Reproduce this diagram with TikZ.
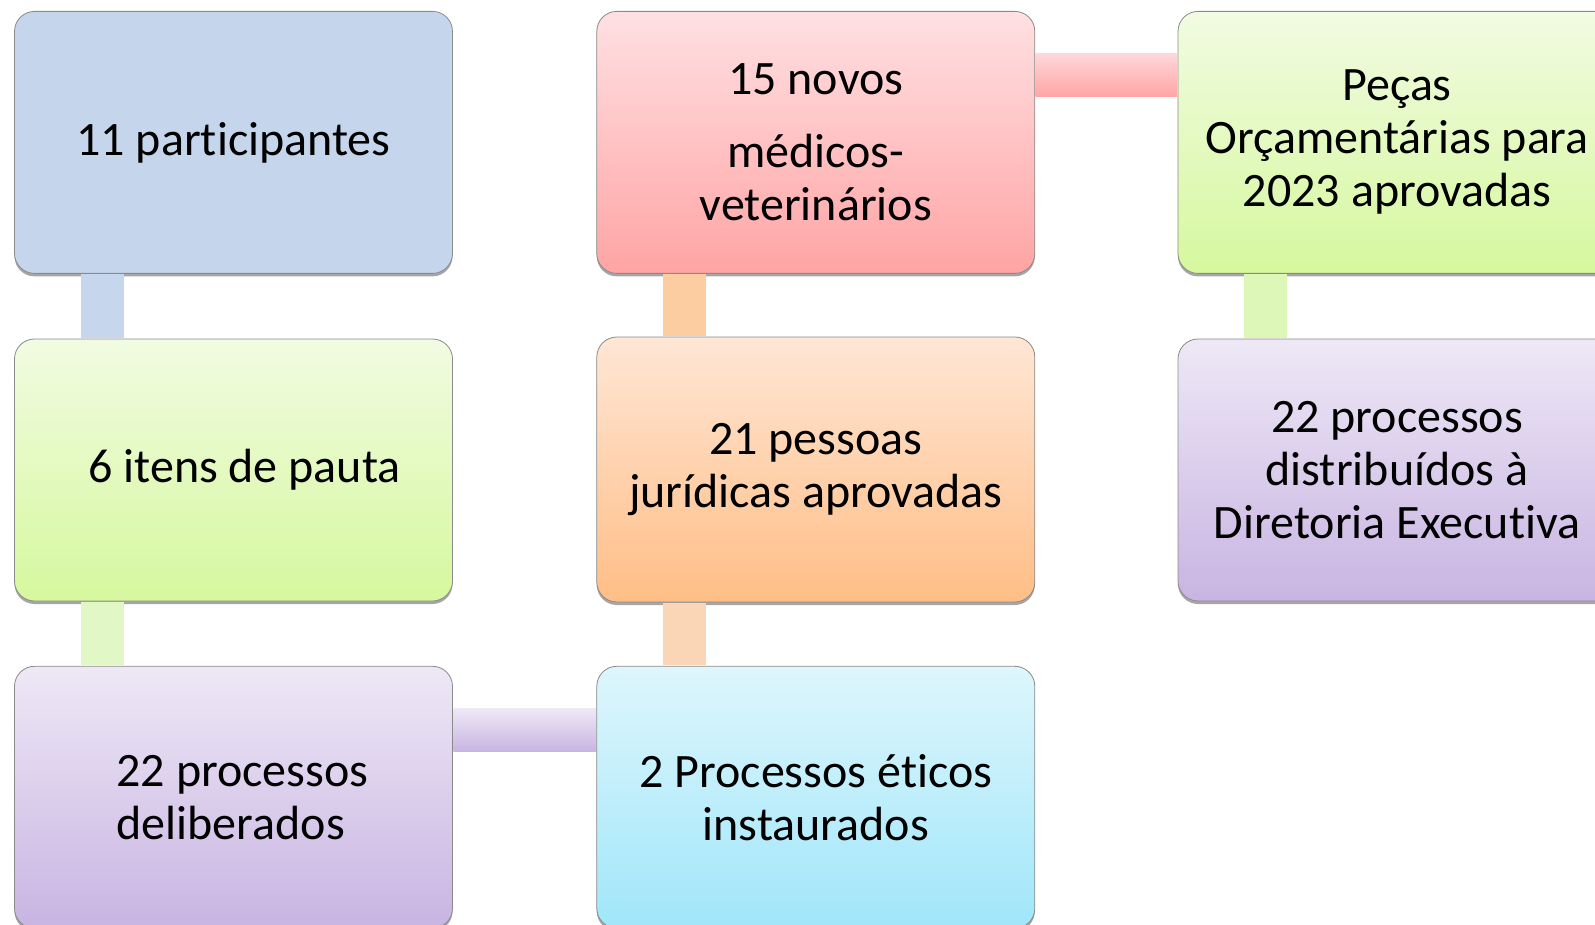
\documentclass[tikz,border=0pt]{standalone}
\usepackage{fontspec}
\setmainfont{Carlito}[Ligatures=NoCommon]
\usetikzlibrary{calc,shadows}
\definecolor{bluebox}{HTML}{C5D6EC}
\definecolor{greentop}{HTML}{F1FBE2}
\definecolor{greenbot}{HTML}{D6F89E}
\definecolor{purptop}{HTML}{EEE8F6}
\definecolor{purpbot}{HTML}{C8B4E2}
\definecolor{redtop}{HTML}{FFE0E3}
\definecolor{redbot}{HTML}{FFA4A4}
\definecolor{orgtop}{HTML}{FFE6D5}
\definecolor{orgbot}{HTML}{FFBE86}
\definecolor{cyantop}{HTML}{DEF6FC}
\definecolor{cyanbot}{HTML}{A0E6FA}
\definecolor{cblue}{HTML}{C6D7ED}
\definecolor{cgreenl}{HTML}{E1F8C6}
\definecolor{corange}{HTML}{FDCDA2}
\definecolor{cpeach}{HTML}{FBD6B6}
\definecolor{cgreenr}{HTML}{DDF7B8}
\definecolor{edge}{HTML}{8A8A8A}
\begin{document}
\begin{tikzpicture}[x=1pt,y=-1pt,
  box/.style={rectangle, rounded corners=20pt, minimum width=438pt, minimum height=262pt,
    draw=edge, line width=0.8pt, align=center, inner sep=0pt,
    font=\fontsize{48}{53}\selectfont,
    drop shadow={shadow xshift=0pt, shadow yshift=-3pt, opacity=0.35, fill=black}},
  flatbox/.style={box, fill=#1},
  gradbox/.style={box, top color=#1top, bottom color=#1bot},
  vconn/.style={line width=43pt, draw=#1},
]
\useasboundingbox (0,0) rectangle (1595,925);
\clip (0,0) rectangle (1595,925);

% boxes
\node[flatbox=bluebox] (b1) at (233.5,142.4) {11 participantes};
\node[gradbox=green] (b2) at (233.5,470) {\hspace*{22pt}6 itens de pauta};
\node[gradbox=purp, align=left] (b3) at (233.5,797.3) {\hspace*{18pt}22 processos\\\hspace*{18pt}deliberados};
\node[gradbox=red] (m1) at (815.8,142.4) {15 novos\\[20pt]médicos-\\veterinários};
\node[gradbox=org, minimum height=265pt] (m2) at (815.8,469.5) {21 pessoas\\jurídicas aprovadas};
\node[gradbox=cyan] (m3) at (815.8,797.3) {2 Processos éticos\\instaurados};
\node[gradbox=green] (r1) at (1397,142.4) {Peças\\Orçamentárias para\\2023 aprovadas};
\node[gradbox=purp] (r2) at (1397,470) {22 processos\\distribuídos à\\Diretoria Executiva};

% connectors
\draw[vconn=cblue] ($(b1.south west)+(88.5,0.5)$) -- ($(b2.north west)+(88.5,-0.5)$);
\draw[vconn=cgreenl] ($(b2.south west)+(88.5,0.5)$) -- ($(b3.north west)+(88.5,-0.5)$);
\draw[vconn=corange] ($(m1.south west)+(88,0.5)$) -- ($(m2.north west)+(88,-0.5)$);
\draw[vconn=cpeach] ($(m2.south west)+(88,0.5)$) -- ($(m3.north west)+(88,-0.5)$);
\draw[vconn=cgreenr] ($(r1.south west)+(88,0.5)$) -- ($(r2.north west)+(88,-0.5)$);
\shade[top color=redtop!85!redbot, bottom color=redbot] ($(m1.north east)+(0.5,43)$) rectangle ($(r1.north west)+(-0.5,86)$);
\shade[top color=purptop, bottom color=purpbot] ($(b3.north east)+(0.5,43)$) rectangle ($(m3.north west)+(-0.5,86)$);
\end{tikzpicture}
\end{document}
